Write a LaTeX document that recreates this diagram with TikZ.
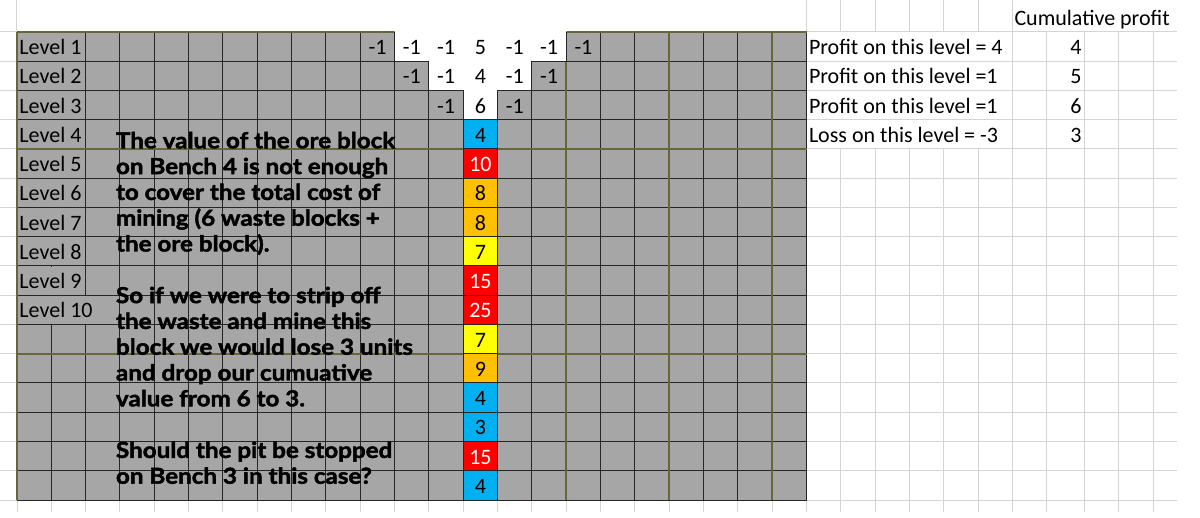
\documentclass[tikz,border=0pt]{standalone}
\usepackage{fontspec}
\setmainfont{Carlito}
\newfontfamily\notefont{Lato}[BoldFeatures={FakeBold=2,FakeStretch=1.1}]
\definecolor{cellgray}{HTML}{A6A6A6}
\definecolor{darkline}{HTML}{262626}
\definecolor{oliveline}{HTML}{66663A}
\definecolor{lightline}{HTML}{D4D4D4}
\definecolor{oreblue}{HTML}{00B0F0}
\definecolor{orered}{HTML}{FF0000}
\definecolor{oreorange}{HTML}{FFC000}
\definecolor{oreyellow}{HTML}{FFFF00}
\begin{document}
\begin{tikzpicture}[x=1pt,y=-1pt,
  declare function={cx(\k)=17+34.33*\k; ry(\r)=32+29.25*\r;},
  light/.style={draw=lightline,line width=1},
  gridln/.style={draw=darkline,line width=1},
  olive/.style={draw=oliveline,line width=1.6},
  txt/.style={inner sep=0,outer sep=0,font=\fontsize{22}{24}\selectfont},
  note/.style={inner sep=0,outer sep=0,anchor=base west,font=\notefont\bfseries\fontsize{22}{24}\selectfont},
]
\useasboundingbox (0,0) rectangle (1200,518);
\fill[white] (0,0) rectangle (1200,518);
% light sheet lines
\foreach \r in {0,...,16}{
  \draw[light] (0,{ry(\r)}) -- (17,{ry(\r)});
  \draw[light] ({cx(23)},{ry(\r)}) -- (1177,{ry(\r)});
}
\draw[light] (16.3,0) -- (16.3,32);
\foreach \k in {0,...,23} \draw[light] ({cx(\k)},500) -- ({cx(\k)},512);
\foreach \k in {23,...,28} \draw[light] ({cx(\k)},0) -- ({cx(\k)},32);
\foreach \k in {24,...,28} \draw[light] ({cx(\k)},{ry(4)}) -- ({cx(\k)},512);
\draw[light] ({cx(29)},0) -- ({cx(29)},512);
\foreach \x in {1046.9,1084.4,1118.7,1153.3} \draw[light] (\x,32) -- (\x,512);
% gray block model
\fill[cellgray] ({cx(0)},{ry(0)}) rectangle ({cx(23)},{ry(16)});
\foreach \r in {0,...,16} \draw[gridln] ({cx(0)},{ry(\r)}) -- ({cx(23)},{ry(\r)});
\foreach \k in {0,...,23} \draw[gridln] ({cx(\k)},{ry(0)}) -- ({cx(\k)},{ry(16)});
\draw[olive] ({cx(0)},{ry(0)}) -- ({cx(23)},{ry(0)});
\draw[olive] ({cx(0)},{ry(4)}) -- ({cx(23)},{ry(4)});
\draw[olive] ({cx(0)},{ry(11)}) -- ({cx(23)},{ry(11)});
\foreach \k in {0,16,19,22} \draw[olive] ({cx(\k)},{ry(0)}) -- ({cx(\k)},{ry(16)});
% mined-out (white) cells
\fill[white] ({cx(11)},{ry(0)-1.5}) -- ({cx(16)},{ry(0)-1.5}) -- ({cx(16)},{ry(1)}) -- ({cx(15)},{ry(1)}) -- ({cx(15)},{ry(2)}) -- ({cx(14)},{ry(2)}) -- ({cx(14)},{ry(3)}) -- ({cx(13)},{ry(3)}) -- ({cx(13)},{ry(2)}) -- ({cx(12)},{ry(2)}) -- ({cx(12)},{ry(1)}) -- ({cx(11)},{ry(1)}) -- cycle;
\draw[gridln] ({cx(11)},{ry(0)}) -- ({cx(11)},{ry(1)}) -- ({cx(12)},{ry(1)}) -- ({cx(12)},{ry(2)}) -- ({cx(13)},{ry(2)}) -- ({cx(13)},{ry(3)}) -- ({cx(14)},{ry(3)}) -- ({cx(14)},{ry(2)}) -- ({cx(15)},{ry(2)}) -- ({cx(15)},{ry(1)}) -- ({cx(16)},{ry(1)}) -- ({cx(16)},{ry(0)});
% merged label cells
\foreach \r in {1,...,9} \fill[cellgray] ({cx(0)+1},{ry(\r-1)+0.6}) rectangle ({cx(2)-0.6},{ry(\r)-0.6});
\fill[cellgray] ({cx(0)+1},{ry(9)+0.6}) rectangle ({cx(3)-0.6},{ry(10)-0.6});
% ore column
\foreach \r/\c/\v/\tc in {4/oreblue/4/black,5/orered/10/white,6/oreorange/8/black,7/oreorange/8/black,8/oreyellow/7/black,9/orered/15/white,10/orered/25/white,11/oreyellow/7/black,12/oreorange/9/black,13/oreblue/4/black,14/oreblue/3/black,15/orered/15/white,16/oreblue/4/black}{
  \filldraw[fill=\c,draw=darkline,line width=1] ({cx(13)},{ry(\r-1)}) rectangle ({cx(14)},{ry(\r)});
  \node[txt,anchor=base,text=\tc] (ore\r) at ({cx(13.5)},{ry(\r)-6.5}) {\v};
}
% top benches
\foreach \k/\v in {10/-1,11/-1,12/-1,13/5,14/-1,15/-1,16/-1}
  \node[txt,anchor=base] (a\k) at ({cx(\k+0.5)},{ry(1)-6.5}) {\v};
\foreach \k/\v in {11/-1,12/-1,13/4,14/-1,15/-1}
  \node[txt,anchor=base] (b\k) at ({cx(\k+0.5)},{ry(2)-6.5}) {\v};
\foreach \k/\v in {12/-1,13/6,14/-1}
  \node[txt,anchor=base] (c\k) at ({cx(\k+0.5)},{ry(3)-6.5}) {\v};
% level labels
\foreach \r in {1,...,10}
  \node[txt,anchor=base west] (L\r) at (19.5,{ry(\r)-6.5}) {Level \r};
% right-hand notes
\node[txt,anchor=base west] (cum) at (1014.5,{ry(0)-6}) {Cumulative profit};
\node[txt,anchor=base west] (p1) at (809,{ry(1)-6.5}) {Profit on this level = 4};
\node[txt,anchor=base west] (p2) at (809,{ry(2)-6.5}) {Profit on this level =1};
\node[txt,anchor=base west] (p3) at (809,{ry(3)-6.5}) {Profit on this level =1};
\node[txt,anchor=base west] (p4) at (809,{ry(4)-6.5}) {Loss on this level = -3};
\node[txt,anchor=base east] (s1) at (1081.5,{ry(1)-6.5}) {4};
\node[txt,anchor=base east] (s2) at (1081.5,{ry(2)-6.5}) {5};
\node[txt,anchor=base east] (s3) at (1081.5,{ry(3)-6.5}) {6};
\node[txt,anchor=base east] (s4) at (1081.5,{ry(4)-6.5}) {3};
% explanatory text
\node[note] (t1) at (116,148.3) {The value of the ore block};
\node[note] (t2) at (116,174.1) {on Bench 4 is not enough};
\node[note] (t3) at (116,199.9) {to cover the total cost of};
\node[note] (t4) at (116,225.7) {mining (6 waste blocks +};
\node[note] (t5) at (116,251.5) {the ore block).};
\node[note] (t6) at (116,303.1) {So if we were to strip off};
\node[note] (t7) at (116,328.9) {the waste and mine this};
\node[note] (t8) at (116,354.7) {block we would lose 3 units};
\node[note] (t9) at (116,380.5) {and drop our cumuative};
\node[note] (t10) at (116,406.3) {value from 6 to 3.};
\node[note] (t11) at (116,457.9) {Should the pit be stopped};
\node[note] (t12) at (116,483.7) {on Bench 3 in this case?};
\end{tikzpicture}
\end{document}
